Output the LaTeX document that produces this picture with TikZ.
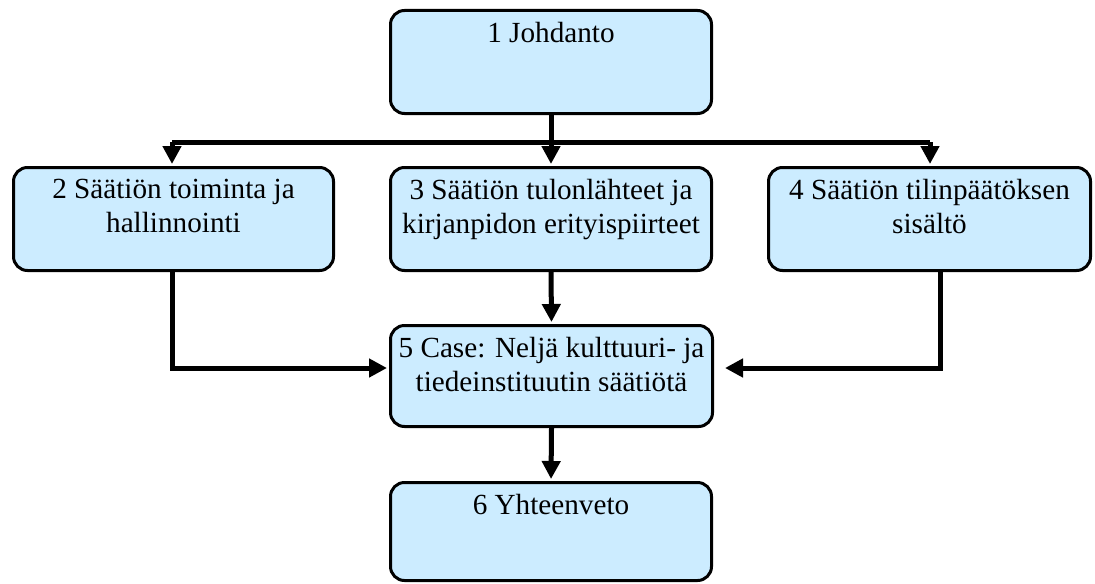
\documentclass[tikz,border=0pt]{standalone}
\usepackage{fontspec}
\setmainfont{Liberation Serif}
\usetikzlibrary{arrows.meta}
\definecolor{boxfill}{RGB}{204,236,255}
\begin{document}
\begin{tikzpicture}[x=0.5pt,y=-0.5pt,
  box/.style={draw=black, line width=1.5pt, fill=boxfill, rounded corners=7pt,
              minimum height=51.5pt, inner sep=0pt},
  lbl/.style={font=\fontsize{14.6}{17}\selectfont, align=center, inner sep=0pt, anchor=north},
  conn/.style={line width=2.5pt},
  arr/.style={conn, -{Triangle[length=9pt,width=9pt]}, shorten >=1pt}]
\useasboundingbox (0,0) rectangle (1095,583);

% chapter boxes
\node[box, minimum width=160.5pt] (b1) at (551,62) {};
\node[box, minimum width=160pt]   (b2) at (173.5,219) {};
\node[box, minimum width=160.5pt] (b3) at (551,219) {};
\node[box, minimum width=161pt]   (b4) at (929.5,219) {};
\node[box, minimum width=161pt, minimum height=50.5pt] (b5) at (551.5,376) {};
\node[box, minimum width=160.5pt, minimum height=49pt] (b6) at (551,531.5) {};

% chapter titles, set at the top of each box
\node[lbl] (t1) at ([yshift=-6.3pt]b1.north) {1 Johdanto};
\node[lbl] (t2) at ([yshift=-6.3pt]b2.north) {2 Säätiön toiminta ja\\hallinnointi};
\node[lbl] (t3) at ([yshift=-6.3pt]b3.north) {3 Säätiön tulonlähteet ja\\kirjanpidon erityispiirteet};
\node[lbl] (t4) at ([yshift=-6.3pt]b4.north) {4 Säätiön tilinpäätöksen\\sisältö};
\node[lbl] (t5) at ([yshift=-6.3pt]b5.north) {5 Case: Neljä kulttuuri- ja\\tiedeinstituutin säätiötä};
\node[lbl] (t6) at ([yshift=-6.3pt]b6.north) {6 Yhteenveto};

% routing points
\coordinate (busL) at (172,142);
\coordinate (busM) at (551,142);
\coordinate (busR) at (930,142);
\coordinate (mid)  at (0,368);
\coordinate (col4) at (940,0);

% distribution bar below the introduction
\draw[conn] (b1.south) -- (busM);
\draw[conn] (busL) -- (busR);
\draw[arr] (busL) -- (busL |- b2.north);
\draw[arr] (busM) -- (b3.north);
\draw[arr] (busR) -- (busR |- b4.north);

% chapters 2-4 feeding the case study
\draw[arr] (b2.south -| busL) |- (b5.west |- mid);
\draw[arr] (b3.south) -- (b5.north);
\draw[arr, shorten >=5.5pt] (b4.south -| col4) |- (b5.east |- mid);

% case study to summary
\draw[arr] (b5.south) -- (b6.north);
\end{tikzpicture}
\end{document}
